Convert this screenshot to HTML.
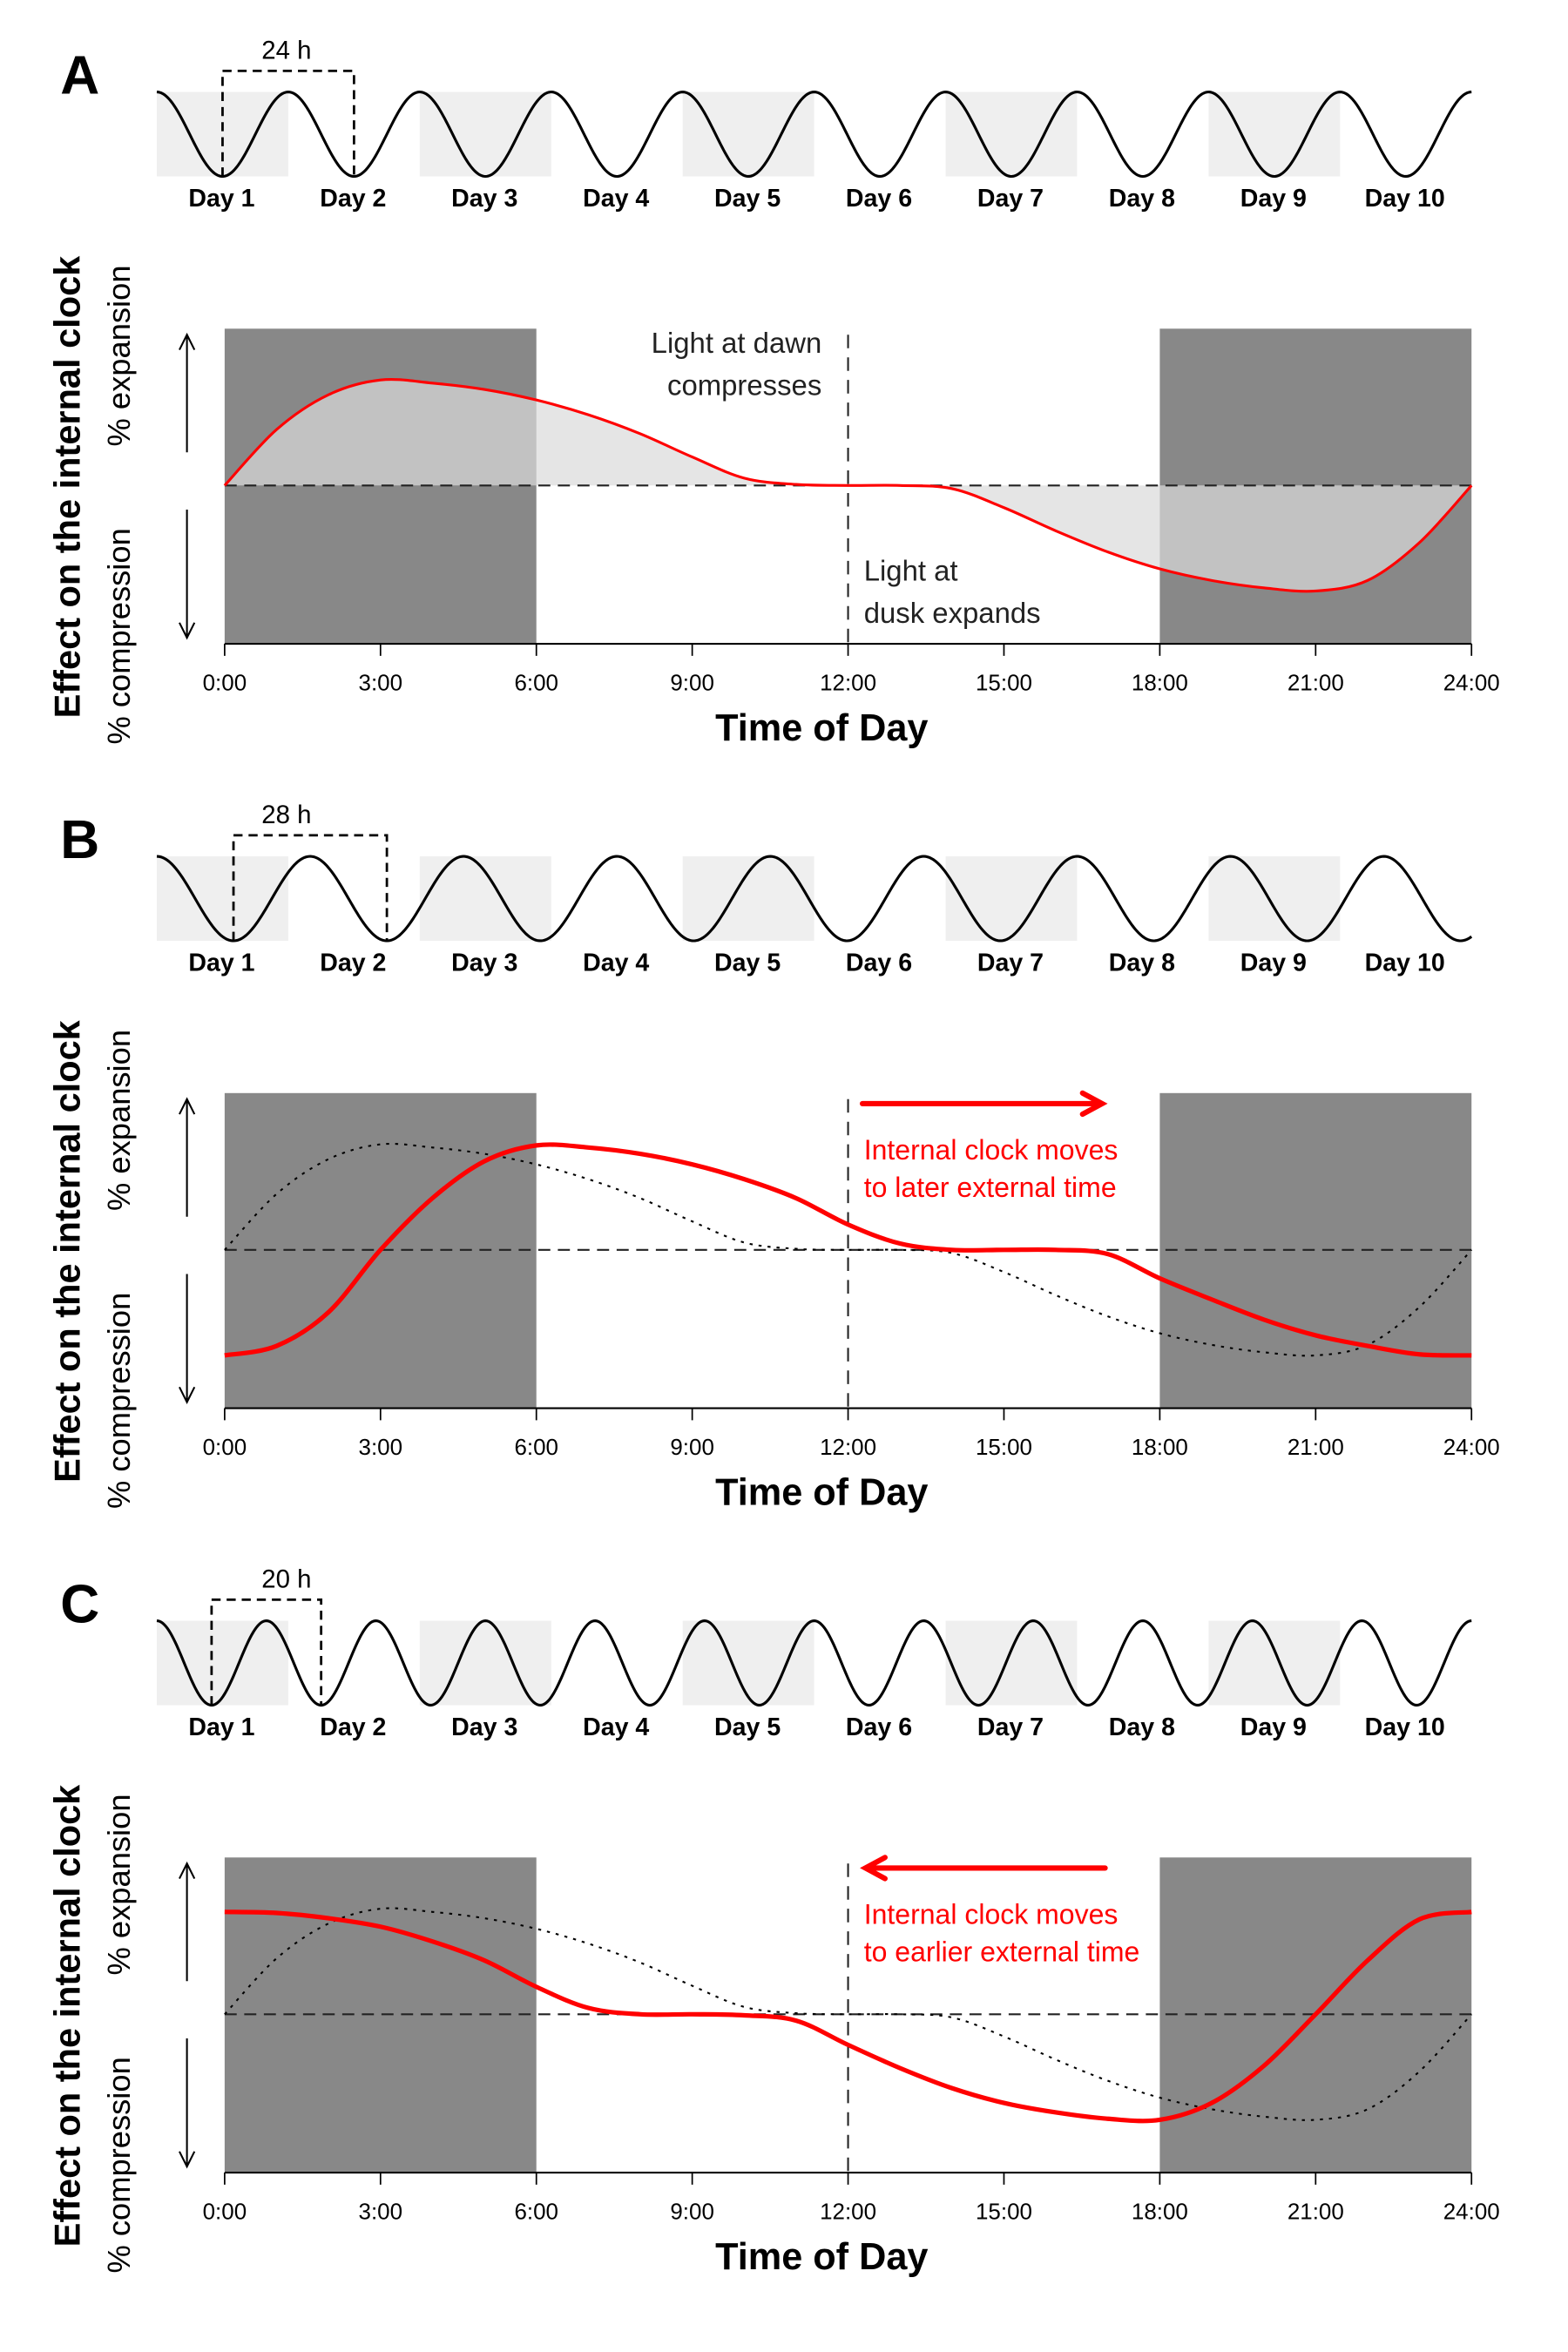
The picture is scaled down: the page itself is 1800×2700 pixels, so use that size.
<!DOCTYPE html>
<html><head><meta charset="utf-8"><style>
html,body{margin:0;padding:0;background:#fff}
svg{display:block}
text{font-family:"Liberation Sans",sans-serif}
</style></head><body>
<svg id="fig" width="1800" height="2700" viewBox="0 0 1040 1560" xmlns="http://www.w3.org/2000/svg"></svg>
<script>
// ---- data ----
const hours = [0,1,2,3,4,5,6,7,8,9,10,11,12,13,14,15,16,17,18,19,20,21,22,23,24];
const baseCurve = [0,0.53,0.86,1.0,0.97,0.91,0.81,0.67,0.49,0.27,0.07,0.01,0,0,-0.03,-0.21,-0.43,-0.63,-0.79,-0.9,-0.97,-1.0,-0.9,-0.54,0];
const lateCurve = [-1.0,-0.91,-0.59,0,0.49,0.84,0.99,0.97,0.91,0.81,0.67,0.49,0.24,0.06,0,0,0,-0.04,-0.27,-0.47,-0.66,-0.81,-0.91,-0.99,-1.0];
const earlyCurve = [0.97,0.96,0.91,0.83,0.69,0.51,0.26,0.06,0,0,-0.01,-0.06,-0.29,-0.51,-0.7,-0.84,-0.93,-0.99,-1.0,-0.84,-0.49,0,0.51,0.9,0.97];
const tickLabels = ["0:00","3:00","6:00","9:00","12:00","15:00","18:00","21:00","24:00"];
const tickHours = [0,3,6,9,12,15,18,21,24];
const dayLabels = ["Day 1","Day 2","Day 3","Day 4","Day 5","Day 6","Day 7","Day 8","Day 9","Day 10"];
const periods = [24,28,20];
const periodLabels = ["24 h","28 h","20 h"];
const panelLetters = ["A","B","C"];

const svg = document.getElementById('fig');
const NS = 'http://www.w3.org/2000/svg';
function mk(tag, attrs, parent){const e=document.createElementNS(NS,tag);for(const k in attrs)e.setAttribute(k,attrs[k]);(parent||svg).appendChild(e);return e;}
function txt(s, attrs, parent){const e=mk('text',attrs,parent);e.textContent=s;return e;}

const X0=149, X1=976, AMP=70;
const xs = h => X0 + (X1-X0)*h/24;
function spline(pts){
  let d='M'+pts[0][0].toFixed(2)+','+pts[0][1].toFixed(2);
  for(let i=0;i<pts.length-1;i++){
    const p0=pts[Math.max(0,i-1)],p1=pts[i],p2=pts[i+1],p3=pts[Math.min(pts.length-1,i+2)];
    const c1=[p1[0]+(p2[0]-p0[0])/6,p1[1]+(p2[1]-p0[1])/6];
    const c2=[p2[0]-(p3[0]-p1[0])/6,p2[1]-(p3[1]-p1[1])/6];
    d+=' C'+c1[0].toFixed(2)+','+c1[1].toFixed(2)+' '+c2[0].toFixed(2)+','+c2[1].toFixed(2)+' '+p2[0].toFixed(2)+','+p2[1].toFixed(2);
  }
  return d;
}

for(let p=0;p<3;p++){
  const off = p*507;
  const g = mk('g',{});
  
  
  const L = txt(panelLetters[p],{x:40,y:62+off,'font-size':36,'font-weight':'bold'},g);
  
  

  const dayW = (976-104)/10;
  for(let d=0;d<10;d+=2){
    const r=mk('rect',{x:104+d*dayW,y:61+off,width:dayW,height:56,fill:'#efefef'},g);
    
    
  }
  const P = dayW*periods[p]/24;
  let wd='';
  for(let x=104;x<=976;x+=1){const y=89+off-28*Math.cos(2*Math.PI*(x-104)/P);wd+=(x===104?'M':'L')+x+','+y.toFixed(2);}
  const wave=mk('path',{d:wd,fill:'none',stroke:'#000','stroke-width':1.8},g);
  
  
  for(let d=0;d<10;d++){
    const t=txt(dayLabels[d],{x:147+d*dayW,y:137+off,'font-size':16.5,'font-weight':'bold','text-anchor':'middle'},g);
    
    
  }
  const bx1=104+P/2, bx2=bx1+P;
  const br=mk('path',{d:`M${bx1},${117+off} V${47+off} H${bx2} V${117+off}`,fill:'none',stroke:'#000','stroke-width':1.6,'stroke-dasharray':'6,4'},g);
  
  
  const pl=txt(periodLabels[p],{x:190,y:39+off,'font-size':17,'text-anchor':'middle'},g);
  
  

  const top=218+off, base=427+off, zero=322+off;
  const ys = v => zero - v*AMP;
  const n1=mk('rect',{x:xs(0),y:top,width:xs(6)-xs(0),height:base-top,fill:'#888'},g);
  
  
  const n2=mk('rect',{x:xs(18),y:top,width:xs(24)-xs(18),height:base-top,fill:'#888'},g);
  
  

  const basePts = hours.map((h,i)=>[xs(h),ys(baseCurve[i])]);
  if(p===0){
    const fill=mk('path',{d:spline(basePts)+' Z',fill:'rgba(219,219,219,0.71)'},g);
    
    
  }
  const zl=mk('line',{x1:xs(0),x2:xs(24),y1:zero,y2:zero,stroke:'#222','stroke-width':1.2,'stroke-dasharray':'8,5'},g);
  
  
  const vl=mk('line',{x1:xs(12),x2:xs(12),y1:top+4,y2:base,stroke:'#222','stroke-width':1.2,'stroke-dasharray':'9,6'},g);
  
  

  if(p===0){
    const c=mk('path',{d:spline(basePts),fill:'none',stroke:'#f00','stroke-width':1.8},g);
    
    
  } else {
    const dc=mk('path',{d:spline(basePts),fill:'none',stroke:'#000','stroke-width':1.2,'stroke-dasharray':'2,4'},g);
    
    
    const vals = p===1?lateCurve:earlyCurve;
    const c=mk('path',{d:spline(hours.map((h,i)=>[xs(h),ys(vals[i])])),fill:'none',stroke:'#f00','stroke-width':3},g);
    
    
  }

  const ax=mk('line',{x1:xs(0),x2:xs(24),y1:base,y2:base,stroke:'#000','stroke-width':1.2},g);
  
  
  tickHours.forEach((h,i)=>{
    const tk=mk('line',{x1:xs(h),x2:xs(h),y1:base,y2:base+8,stroke:'#000','stroke-width':1},g);
    
    
    const tl=txt(tickLabels[i],{x:xs(h),y:base+31,'font-size':15,'text-anchor':'middle'},g);
    
    
  });
  const xt=txt('Time of Day',{x:545,y:base+64,'font-size':25,'font-weight':'bold','text-anchor':'middle'},g);
  
  

  const yt=txt('Effect on the internal clock',{x:0,y:0,'font-size':24,'font-weight':'bold','text-anchor':'middle',transform:`translate(53,${323+off}) rotate(-90)`},g);
  
  
  const ye=txt('% expansion',{x:0,y:0,'font-size':21,'text-anchor':'middle',transform:`translate(86,${236+off}) rotate(-90)`},g);
  
  
  const yc=txt('% compression',{x:0,y:0,'font-size':21,'text-anchor':'middle',transform:`translate(86,${422+off}) rotate(-90)`},g);
  
  
  const au=mk('path',{d:`M124,${300+off} V${223+off} M119,${232+off} L124,${222+off} L129,${232+off}`,fill:'none',stroke:'#000','stroke-width':1.2},g);
  
  
  const ad=mk('path',{d:`M124,${338+off} V${422+off} M119,${413+off} L124,${423+off} L129,${413+off}`,fill:'none',stroke:'#000','stroke-width':1.2},g);
  
  

  if(p===0){
    const a1=txt('Light at dawn',{x:545,y:234,'font-size':19,'text-anchor':'end',fill:'#222'},g);
    
    
    const a2=txt('compresses',{x:545,y:262,'font-size':19,'text-anchor':'end',fill:'#222'},g);
    
    
    const a3=txt('Light at',{x:573,y:385,'font-size':19,fill:'#222'},g);
    
    
    const a4=txt('dusk expands',{x:573,y:413,'font-size':19,fill:'#222'},g);
    
    
  } else {
    const ay=top+7;
    const arr = p===1
      ? `M572,${ay} H730 M718,${ay-7} L731,${ay} L718,${ay+7}`
      : `M733,${ay} H575 M587,${ay-7} L574,${ay} L587,${ay+7}`;
    const ar=mk('path',{d:arr,fill:'none',stroke:'#f00','stroke-width':3.5,'stroke-linecap':'round'},g);
    
    
    const t1=txt('Internal clock moves',{x:573,y:top+44,'font-size':18.5,fill:'#f00'},g);
    
    
    const t2=txt(p===1?'to later external time':'to earlier external time',{x:573,y:top+69,'font-size':18.5,fill:'#f00'},g);
    
    
  }
}
</script>
</body></html>
